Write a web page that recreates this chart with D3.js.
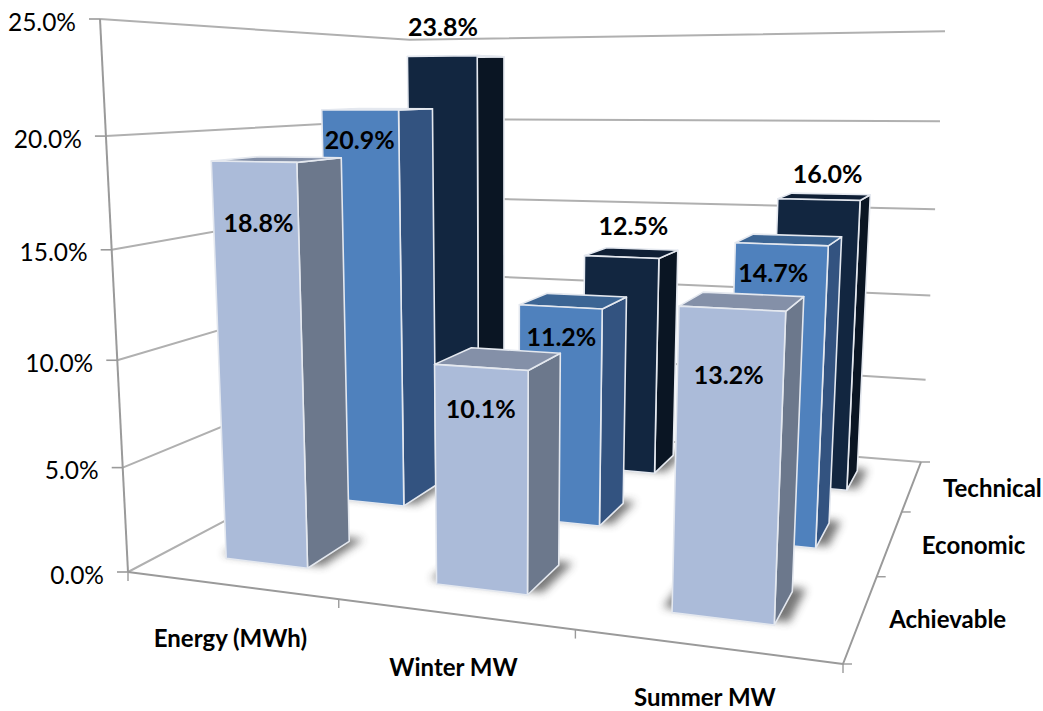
<!DOCTYPE html>
<html>
<head>
<meta charset="utf-8">
<script src="https://cdn.jsdelivr.net/npm/d3@7/dist/d3.min.js"></script>
<style>
  html, body { margin: 0; padding: 0; background: #fff; }
  svg { display: block; }
  text { font-family: Lato, "Open Sans", sans-serif; fill: #000; }
</style>
</head>
<body>
<div id="chart"></div>
<script>
// Chart values, in percent
const categories = ["Energy (MWh)", "Winter MW", "Summer MW"];
const tiers = ["Achievable", "Economic", "Technical"];
const achievable = [18.8, 10.1, 13.2];
const economic = [20.9, 11.2, 14.7];
const technical = [23.8, 12.5, 16.0];
const valueTicks = [0, 5, 10, 15, 20, 25];
const seriesByTier = [achievable, economic, technical];

const width = 1043, height = 711;

// Box corners on screen: floor front-left, front-right, back-right, back-left,
// then the top of the front-left and back-right uprights.
const box = {
  a: [128, 572], b: [843, 664], c: [921, 462], d: [414, 421],
  aTop: [100, 19], cTop: [945, 30]
};

// Perspective for the floor plane, from its four corners.
const det = (p, q) => p[0] * q[1] - p[1] * q[0];
const e1 = [box.b[0] - box.c[0], box.b[1] - box.c[1]];
const e2 = [box.d[0] - box.c[0], box.d[1] - box.c[1]];
const es = [box.a[0] - box.b[0] + box.c[0] - box.d[0], box.a[1] - box.b[1] + box.c[1] - box.d[1]];
const gU = det(es, e2) / det(e1, e2);
const gV = det(e1, es) / det(e1, e2);
const backWeight = 1 + gU + gV;
const gW = ((box.c[0] - box.cTop[0]) * backWeight + box.aTop[0] - box.a[0]) / (box.cTop[0] - box.aTop[0]);
const hx = box.aTop[0] * (1 + gW) - box.a[0];
const hy = box.aTop[1] * (1 + gW) - box.a[1];
const depthFalloff = 0.008;

// u runs along the categories, v into the depth, w up the value axis; all 0..1.
function project(u, v, w) {
  const k = 1 + gU * u + gV * v + gW * w;
  const x = ((box.b[0] * (1 + gU) - box.a[0]) * u + (box.d[0] * (1 + gV) - box.a[0]) * v + box.a[0] + hx * w) / k;
  const y = ((box.b[1] * (1 + gU) - box.a[1]) * u + (box.d[1] * (1 + gV) - box.a[1]) * v + box.a[1] + hy * w * (1 - depthFalloff * v)) / k;
  return [x, y];
}

const uScale = d3.scaleBand().domain(categories).range([0, 1]).paddingInner(0.6).paddingOuter(0.3);
const vScale = d3.scaleBand().domain(tiers).range([0, 1]).paddingInner(0.6).paddingOuter(0.3);
const wScale = d3.scaleLinear().domain([0, 25]).range([0, 1]);
const percent = d => d.toFixed(1) + "%";

const svg = d3.select("#chart").append("svg").attr("width", width).attr("height", height);
svg.append("rect").attr("width", width).attr("height", height).attr("fill", "#fff");

const defs = svg.append("defs");
defs.append("filter").attr("id", "soft").attr("x", "-40%").attr("y", "-40%").attr("width", "180%").attr("height", "180%")
  .append("feGaussianBlur").attr("stdDeviation", 4.5);

const pathOf = d3.line();
const polyline = (g, pts, stroke, w) => g.append("path").attr("d", pathOf(pts))
  .attr("fill", "none").attr("stroke", stroke).attr("stroke-width", w).attr("stroke-linejoin", "round");

// Walls: each gridline runs along the left wall, then across the back wall.
const walls = svg.append("g");
const wallColor = "#b0b0b0", axisColor = "#9a9a9a";
valueTicks.forEach(t => {
  const w = wScale(t);
  polyline(walls, [project(0, 0, w), project(0, 1, w), project(1, 1, w)], wallColor, 2);
  const p = project(0, 0, w);
  polyline(walls, [[p[0] - 11, p[1]], p], axisColor, 1.6);
  walls.append("text").attr("x", p[0] - 24).attr("y", p[1] + 3).attr("dy", "0.35em")
    .attr("text-anchor", "end").attr("font-size", 24.5).text(percent(t));
});
polyline(walls, [project(0, 0, 0), project(0, 0, 1)], axisColor, 2);

// Floor edges and their tick marks
polyline(walls, [project(0, 0, 0), project(1, 0, 0), project(1, 1, 0)], axisColor, 2);
d3.range(categories.length + 1).forEach(i => {
  const p = project(i * uScale.step(), 0, 0);
  polyline(walls, [p, [p[0], p[1] + 9]], axisColor, 1.4);
});
d3.range(tiers.length + 1).forEach(i => {
  const p = project(1, i * vScale.step(), 0);
  polyline(walls, [p, [p[0] + 9, p[1]]], axisColor, 1.4);
});

// Axis captions; the baseline is held back far enough to keep descenders on the page
const captionSize = 24;
categories.forEach(c => {
  const p = project(uScale(c) + uScale.bandwidth() / 2, 0, 0);
  svg.append("text").attr("x", p[0]).attr("y", Math.min(p[1] + 62, height - 5.5))
    .attr("text-anchor", "middle").attr("font-size", captionSize).attr("font-weight", 700).text(c);
});
tiers.forEach(t => {
  const v = vScale(t) + vScale.bandwidth() / 2;
  const p = project(1, v, 0);
  svg.append("text").attr("x", p[0] + 88 - 9 * v).attr("y", p[1] + 3).attr("dy", "0.35em")
    .attr("text-anchor", "middle").attr("font-size", captionSize).attr("font-weight", 700).text(t);
});

// Face colours per tier: front, side, top
const faceColors = {
  Achievable: ["#abbbd9", "#6c788c", "#8490a8"],
  Economic: ["#4f81bd", "#335380", "#3c6594"],
  Technical: ["#122640", "#0a1523", "#0f1f35"]
};
const edge = "#e4e8ef";

// Offset of each value label from the middle of its bar's top front edge
const labelShift = {
  Achievable: [[5, 62], [0, 42], [-3, 67]],
  Economic: [[0, 30], [1, 30], [-8, 29]],
  Technical: [[1, -29], [12, -31], [9, -25]]
};

// Draw back row first so nearer bars overlap the ones behind them.
const bars = svg.append("g");
const labels = [];
tiers.slice().reverse().forEach(tier => {
  const values = seriesByTier[tiers.indexOf(tier)];
  categories.forEach((cat, i) => {
    const u0 = uScale(cat), u1 = u0 + uScale.bandwidth();
    const v0 = vScale(tier), v1 = v0 + vScale.bandwidth();
    const w = wScale(values[i]);
    const [front, side, top] = faceColors[tier];

    // Contact shadow on the floor, just wider than the bar
    const grow = 0.016;
    bars.append("path")
      .attr("d", pathOf([project(u0 - grow, v0 + grow, 0), project(u1 + grow, v0 + grow, 0),
                         project(u1 + grow, v1 + grow, 0), project(u0 - grow, v1 + grow, 0)]) + "Z")
      .attr("fill", "#3c3c3c").attr("opacity", 0.7).attr("filter", "url(#soft)");

    const face = (pts, fill) => bars.append("path").attr("d", pathOf(pts) + "Z")
      .attr("fill", fill).attr("stroke", edge).attr("stroke-width", 1.6).attr("stroke-linejoin", "round");

    face([project(u1, v0, 0), project(u1, v1, 0), project(u1, v1, w), project(u1, v0, w)], side);
    face([project(u0, v0, w), project(u1, v0, w), project(u1, v1, w), project(u0, v1, w)], top);
    face([project(u0, v0, 0), project(u1, v0, 0), project(u1, v0, w), project(u0, v0, w)], front);

    const p = project((u0 + u1) / 2, v0, w);
    const [dx, dy] = labelShift[tier][i];
    labels.push({ x: p[0] + dx, y: p[1] + dy, text: percent(values[i]) });
  });
});

// Value labels stay on top of every bar
svg.append("g").selectAll("text").data(labels).join("text")
  .attr("x", d => d.x).attr("y", d => d.y).attr("dy", "0.35em")
  .attr("text-anchor", "middle").attr("font-size", 25).attr("font-weight", 700)
  .text(d => d.text);
</script>
</body>
</html>
